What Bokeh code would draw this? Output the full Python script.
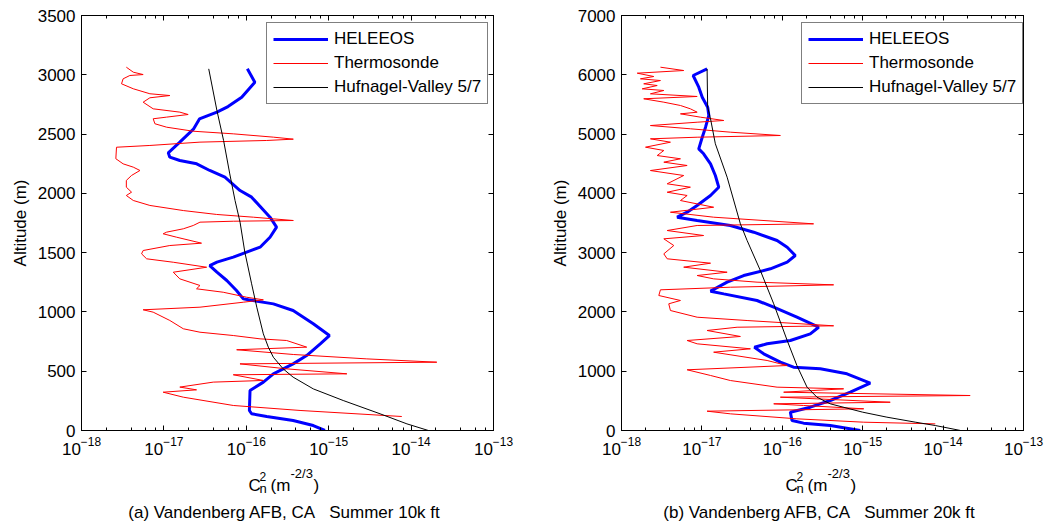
from bokeh.plotting import figure
from bokeh.models import (Range1d, LinearAxis, LogAxis, FixedTicker, LogTicker,
                          Legend, LegendItem, Label)
from bokeh.layouts import row, column
from bokeh.embed import file_html
from bokeh.resources import INLINE

FONT = "Liberation Sans"

# ---------------- Panel (a): Summer 10k ft ----------------
heleeos_a_alt = [3050, 2937, 2811, 2732, 2685, 2628, 2544, 2432, 2342, 2305, 2277, 2249, 2193,
                 2136, 2024, 1968, 1799, 1715, 1630, 1546, 1504, 1462, 1420, 1391, 1335, 1265,
                 1181, 1110, 1102, 1068, 1012, 900, 801, 731, 632, 562, 478, 408, 337, 169, 141,
                 118, 84, 42, 0]
heleeos_a_cn2 = [1.03e-16, 1.27e-16, 8.8e-17, 6.0e-17, 4.4e-17, 2.7e-17, 2.3e-17, 1.56e-17,
                 1.13e-17, 1.18e-17, 1.56e-17, 2.5e-17, 3.6e-17, 5.5e-17, 8.4e-17, 1.16e-16,
                 1.94e-16, 2.33e-16, 1.94e-16, 1.47e-16, 1.01e-16, 6.95e-17, 4.4e-17, 3.6e-17,
                 4.4e-17, 5.8e-17, 7.6e-17, 9.2e-17, 1.06e-16, 2.13e-16, 3.7e-16, 6.5e-16,
                 1.02e-15, 7.9e-16, 5.4e-16, 3.7e-16, 2.13e-16, 1.61e-16, 1.11e-16, 1.09e-16,
                 1.16e-16, 1.77e-16, 3.7e-16, 6.5e-16, 9.0e-16]

thermo_a_alt = [3064, 3022, 3002, 2994, 2966, 2924, 2882, 2840, 2825, 2806, 2769, 2713, 2685,
                2665, 2643, 2629, 2587, 2558, 2524, 2502, 2474, 2457, 2446, 2432, 2404, 2389,
                2292, 2249, 2221, 2193, 2151, 2109, 2052, 2010, 1982, 1940, 1898, 1855, 1822,
                1799, 1785, 1771, 1765, 1757, 1729, 1701, 1673, 1659, 1630, 1580, 1560, 1518,
                1490, 1448, 1419, 1377, 1335, 1279, 1223, 1195, 1166, 1124, 1102, 1082, 1040,
                1018, 998, 928, 858, 829, 801, 773, 759, 703, 681, 641, 604, 576, 562, 520, 478,
                470, 422, 408, 366, 343, 323, 281, 211, 169, 118]
thermo_a_cn2 = [3.5e-18, 4.25e-18, 5.6e-18, 3.86e-18, 3.2e-18, 3.06e-18, 4.25e-18, 6.76e-18,
                1.18e-17, 6.76e-18, 5.6e-18, 7.41e-18, 1.56e-17, 1.97e-17, 1.08e-17, 7.41e-18,
                7.78e-18, 1.08e-17, 2.27e-17, 6.95e-17, 2.13e-16, 3.72e-16, 1.77e-16, 2.74e-17,
                6.76e-18, 2.66e-18, 2.61e-18, 3.2e-18, 4.25e-18, 5.12e-18, 4.05e-18, 3.5e-18,
                3.5e-18, 4.05e-18, 3.5e-18, 4.25e-18, 6.76e-18, 1.72e-17, 4.37e-17, 1.22e-16,
                2.13e-16, 3.72e-16, 6.95e-17, 2.74e-17, 2.27e-17, 1.72e-17, 1.08e-17, 9.8e-18,
                1.43e-17, 2.86e-17, 1.18e-17, 5.6e-18, 5.36e-18, 6.17e-18, 1.3e-17, 3.3e-17,
                1.3e-17, 1.56e-17, 2.74e-17, 2.49e-17, 5.25e-17, 1.01e-16, 1.61e-16, 9.2e-17,
                2.74e-17, 5.6e-18, 7.41e-18, 1.18e-17, 1.72e-17, 2.74e-17, 6.95e-17, 1.47e-16,
                3.09e-16, 5.41e-16, 7.64e-17, 3.72e-16, 2.9e-15, 2.05e-14, 8.38e-17, 3.09e-16,
                1.66e-15, 6.95e-17, 1.61e-16, 3.97e-17, 1.56e-17, 2.49e-17, 9.8e-18, 1.72e-17,
                6.95e-17, 4.49e-16, 7.71e-15]

hv_a_alt = [3050, 2699, 2446, 2164, 1940, 1757, 1504, 1237, 1040, 815, 703, 618, 520, 450,
            351, 253, 141, 56, 0]
hv_a_cn2 = [3.5e-17, 4.4e-17, 5.3e-17, 6.3e-17, 7.3e-17, 8.4e-17, 9.6e-17, 1.16e-16, 1.34e-16,
            1.61e-16, 1.85e-16, 2.13e-16, 2.8e-16, 3.7e-16, 6.5e-16, 1.5e-15, 4.2e-15, 8.9e-15,
            1.62e-14]

# ---------------- Panel (b): Summer 20k ft ----------------
heleeos_b_alt = [6100, 5988, 5791, 5622, 5453, 5313, 5116, 4947, 4751, 4667, 4498, 4301, 4104,
                 3964, 3795, 3682, 3598, 3542, 3458, 3345, 3205, 3092, 2952, 2839, 2727, 2614,
                 2502, 2350, 2305, 2193, 2080, 1911, 1742, 1630, 1518, 1462, 1405, 1293, 1152,
                 1068, 1040, 956, 798, 646, 506, 393, 309, 169, 124, 84, 0]
heleeos_b_cn2 = [1.16e-17, 7.78e-18, 9.14e-18, 1.01e-17, 1.18e-17, 1.22e-17, 1.11e-17, 1.01e-17,
                 9.14e-18, 1.05e-17, 1.28e-17, 1.47e-17, 1.62e-17, 1.28e-17, 8.71e-18, 6.55e-18,
                 4.92e-18, 8.71e-18, 2.26e-17, 4.41e-17, 8.61e-17, 1.15e-16, 1.45e-16, 1.15e-16,
                 7.11e-17, 3.31e-17, 2.06e-17, 1.28e-17, 1.87e-17, 4.85e-17, 7.82e-17, 1.52e-16,
                 2.83e-16, 2.23e-16, 1.26e-16, 6.47e-17, 4.5e-17, 5.87e-17, 9.46e-17, 1.38e-16,
                 2.97e-16, 6.37e-16, 1.24e-15, 7.01e-16, 3.95e-16, 2.23e-16, 1.26e-16, 1.32e-16,
                 1.84e-16, 3.95e-16, 9.33e-16]

thermo_b_alt = [6128, 6072, 6027, 5971, 5932, 5903, 5848, 5819, 5763, 5735, 5679, 5634, 5595,
                5538, 5482, 5426, 5369, 5341, 5285, 5229, 5200, 5144, 5089, 5032, 4976, 4947,
                4920, 4863, 4779, 4723, 4638, 4583, 4526, 4470, 4385, 4301, 4161, 4104, 4019,
                3964, 3879, 3766, 3682, 3598, 3486, 3458, 3373, 3289, 3233, 3120, 2980, 2896,
                2822, 2755, 2670, 2614, 2558, 2502, 2457, 2417, 2373, 2277, 2193, 2137, 2024,
                1911, 1855, 1766, 1742, 1687, 1586, 1518, 1462, 1378, 1321, 1181, 1096, 1024,
                928, 843, 731, 703, 646, 590, 562, 477, 450, 422, 366, 326, 281, 197, 140, 112]
thermo_b_cn2 = [3.05e-18, 5.94e-18, 1.57e-18, 2.52e-18, 1.72e-18, 3.05e-18, 1.89e-18, 2.78e-18,
                1.81e-18, 3.36e-18, 2.29e-18, 8.73e-18, 1.89e-18, 3.36e-18, 5.41e-18, 7.19e-18,
                8.73e-18, 5.41e-18, 9.59e-18, 1.87e-17, 8.73e-18, 2.29e-18, 7.19e-18, 2.26e-17,
                9.46e-17, 8.73e-18, 2.29e-18, 4.06e-18, 1.99e-18, 3.36e-18, 2.78e-18, 5.41e-18,
                3.36e-18, 6.55e-18, 2.29e-18, 5.94e-18, 3.7e-18, 7.19e-18, 3.7e-18, 6.55e-18,
                5.41e-18, 1.4e-17, 4.06e-18, 1.4e-17, 2.45e-16, 8.73e-18, 3.7e-18, 1.05e-17,
                3.36e-18, 4.47e-18, 3.36e-18, 3.7e-18, 1.28e-17, 5.94e-18, 2.06e-17, 8.73e-18,
                1.4e-17, 4.85e-17, 4.35e-16, 2.26e-17, 3.05e-18, 2.91e-18, 5.41e-18, 3.87e-18,
                4.06e-18, 8.73e-18, 3.65e-17, 4.35e-16, 2.74e-17, 1.16e-17, 3.01e-17, 6.55e-18,
                8.73e-18, 4.01e-17, 1.4e-17, 6.47e-17, 1.15e-16, 6.55e-18, 1.28e-17, 2.26e-17,
                8.61e-17, 5.79e-16, 1.04e-16, 2.17e-14, 9.46e-17, 2.2e-15, 7.82e-17, 1.84e-16,
                1.03e-15, 1.16e-17, 2.26e-17, 1.52e-16, 1.03e-15, 8.0e-15]

hv_b_alt = [6100, 5453, 5257, 4836, 4273, 3486, 3205, 2699, 2137, 1518, 1096, 731, 562, 450,
            309, 225, 141, 84, 0]
hv_b_cn2 = [1.16e-17, 1.18e-17, 1.28e-17, 1.47e-17, 2.06e-17, 3.01e-17, 3.65e-17, 5.33e-17,
            7.82e-17, 1.15e-16, 1.52e-16, 2.03e-16, 2.7e-16, 3.95e-16, 1.0e-15, 2.0e-15, 4.5e-15,
            8.0e-15, 1.65e-14]

series_names = ["HELEEOS", "Thermosonde", "Hufnagel-Valley 5/7"]
x_limits = (1e-18, 1e-13)
y_ticks_a = [0, 500, 1000, 1500, 2000, 2500, 3000, 3500]
y_ticks_b = [0, 1000, 2000, 3000, 4000, 5000, 6000, 7000]
caption_a = "(a) Vandenberg AFB, CA\u00a0 \u00a0Summer 10k ft"
caption_b = "(b) Vandenberg AFB, CA\u00a0 \u00a0Summer 20k ft"

MAIN_H = 460
TEXT_H = 62


def style_axis(ax, show_labels, minor=True):
    ax.axis_line_color = "black"
    ax.axis_line_width = 1
    ax.major_tick_line_color = "black"
    ax.major_tick_in = 5
    ax.major_tick_out = 0
    if minor:
        ax.minor_tick_line_color = "black"
        ax.minor_tick_in = 3
        ax.minor_tick_out = 0
    else:
        ax.minor_tick_line_color = None
    ax.major_label_text_font = FONT
    if show_labels:
        ax.major_label_text_color = "black"
        ax.major_label_text_font_size = "17px"
        ax.major_label_standoff = 6
    else:
        ax.major_label_text_color = None
        ax.major_label_text_font_size = "1px"
        ax.major_label_standoff = 0


def make_panel(width, bl, br, ymax, yticks, hel, thr, hv, legend_x):
    p = figure(width=width, height=MAIN_H, x_axis_type="log",
               x_range=Range1d(*x_limits), y_range=Range1d(0, ymax),
               output_backend="svg", toolbar_location=None,
               min_border_left=bl, min_border_right=br, min_border_top=15,
               min_border_bottom=MAIN_H - 15 - 415)
    p.grid.visible = False
    p.outline_line_color = "black"
    p.background_fill_color = "white"
    p.border_fill_color = "white"

    style_axis(p.xaxis[0], True, minor=True)
    p.xaxis[0].ticker = LogTicker()
    style_axis(p.yaxis[0], True, minor=False)
    p.yaxis[0].ticker = FixedTicker(ticks=yticks)
    p.yaxis[0].axis_label = "Altitude (m)"
    p.yaxis[0].axis_label_text_font = FONT
    p.yaxis[0].axis_label_text_font_size = "17px"
    p.yaxis[0].axis_label_text_font_style = "normal"
    p.yaxis[0].axis_label_text_color = "black"
    p.yaxis[0].axis_label_standoff = 5

    top = LogAxis(ticker=LogTicker())
    style_axis(top, False, minor=True)
    p.add_layout(top, "above")
    right = LinearAxis(ticker=FixedTicker(ticks=yticks))
    style_axis(right, False, minor=False)
    p.add_layout(right, "right")

    r1 = p.line(hel[0], hel[1], line_color="#0000ff", line_width=3)
    r2 = p.line(thr[0], thr[1], line_color="#ff0000", line_width=1)
    r3 = p.line(hv[0], hv[1], line_color="black", line_width=1)

    legend = Legend(items=[LegendItem(label=series_names[0], renderers=[r1]),
                           LegendItem(label=series_names[1], renderers=[r2]),
                           LegendItem(label=series_names[2], renderers=[r3])],
                    location=(legend_x, 326))
    legend.label_text_font = FONT
    legend.label_text_font_size = "17px"
    legend.label_text_color = "black"
    legend.glyph_width = 55
    legend.glyph_height = 20
    legend.label_height = 20
    legend.label_standoff = 6
    legend.spacing = 4
    legend.padding = 6
    legend.margin = 0
    legend.border_line_color = "black"
    legend.border_line_width = 1
    legend.background_fill_color = "white"
    legend.background_fill_alpha = 1
    p.add_layout(legend)
    return p


def make_text_panel(width, bl, br, xl, caption, cap_x):
    # same horizontal borders as the panel above, so the frames line up
    t = figure(width=width, height=TEXT_H, x_range=Range1d(0, 1), y_range=Range1d(0, 1),
               output_backend="svg", toolbar_location=None,
               x_axis_location=None, y_axis_location=None,
               min_border_left=bl, min_border_right=br, min_border_top=0,
               min_border_bottom=0)
    t.grid.visible = False
    t.outline_line_color = None
    t.background_fill_color = "white"
    t.border_fill_color = "white"
    c_x, s_x, m_x, e_x, r_x = xl
    pieces = [("C", c_x, 37, "17px"), ("2", s_x, 46, "12px"), ("n", s_x, 34, "13px"),
              ("(m", m_x, 37, "17px"), ("-2/3", e_x, 49, "13px"), (")", r_x, 37, "17px")]
    for txt, x, y, fs in pieces:
        t.add_layout(Label(x=x, y=y, x_units="screen", y_units="screen", text=txt,
                           text_font=FONT, text_font_size=fs, text_color="black",
                           text_align="left", text_baseline="alphabetic"))
    t.add_layout(Label(x=cap_x, y=10, x_units="screen", y_units="screen", text=caption,
                       text_font=FONT, text_font_size="17px", text_color="black",
                       text_align="center", text_baseline="alphabetic"))
    return t


pa = make_panel(520, 81, 27, 3500, y_ticks_a,
                (heleeos_a_cn2, heleeos_a_alt), (thermo_a_cn2, thermo_a_alt),
                (hv_a_cn2, hv_a_alt), 185)
pb = make_panel(533, 101, 30, 7000, y_ticks_b,
                (heleeos_b_cn2, heleeos_b_alt), (thermo_b_cn2, thermo_b_alt),
                (hv_b_cn2, hv_b_alt), 180)
ta = make_text_panel(520, 81, 27, (167, 178, 189, 209, 232), caption_a, 203)
tb = make_text_panel(533, 101, 30, (164, 175, 186, 206, 229), caption_b, 198)

layout = row(column(pa, ta), column(pb, tb))
open("out.html", "w").write(file_html(layout, INLINE))
